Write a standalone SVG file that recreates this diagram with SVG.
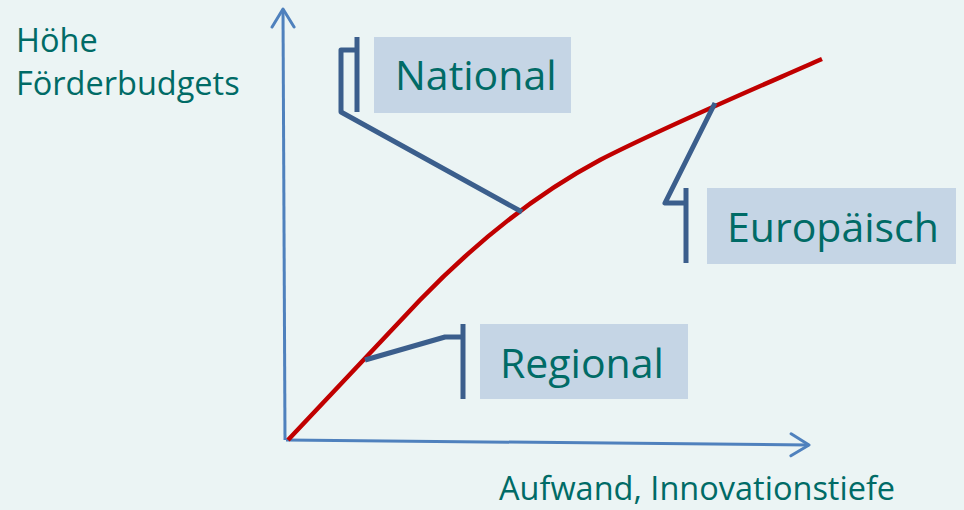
<svg xmlns="http://www.w3.org/2000/svg" width="964" height="510" viewBox="0 0 964 510">
<defs>
<style>
.axis{stroke:#4F81BD;stroke-width:3;fill:none}
.curve{stroke:#C00000;stroke-width:4.5;fill:none}
.call{stroke:#3B5E8C;stroke-width:5;fill:none;stroke-linejoin:round}
.box{fill:#C5D5E5}
.lbl{font-family:"Open Sans","Noto Sans",sans-serif;font-size:41px;fill:#006B66}
.ax{font-family:"Open Sans","Noto Sans",sans-serif;font-size:32.5px;fill:#006B66}
</style>
<marker id="arr" markerUnits="userSpaceOnUse" markerWidth="40" markerHeight="40" viewBox="-20 -20 40 40" refX="0" refY="0" orient="auto">
<path d="M-18,-11 L0,0 L-18,11" fill="none" stroke="#4F81BD" stroke-width="3" stroke-linejoin="round" stroke-linecap="round"/>
</marker>
</defs>
<rect width="964" height="510" fill="#EBF4F4"/>
<g id="axes">
<line class="axis" x1="285" y1="440" x2="283" y2="9" marker-end="url(#arr)"/>
<line class="axis" x1="286" y1="440" x2="809" y2="445" marker-end="url(#arr)"/>
<text class="ax" x="16" y="52">Höhe</text>
<text class="ax" x="16" y="95">Förderbudgets</text>
<text class="ax" x="499" y="500">Aufwand, Innovationstiefe</text>
</g>
<g id="curve">
<path class="curve" d="M288,440 L420,300 C480,238 540,192 600,160 C660,129 740,95 822,59"/>
</g>
<g id="connectors">
<polyline class="call" points="357,37 357,112"/>
<polyline class="call" points="357,50 341,50 341,112 522,212"/>
<polyline class="call" points="686,188 686,263"/>
<polyline class="call" points="715,103 665,203 686,203"/>
<polyline class="call" points="463,324 463,399"/>
<polyline class="call" points="463,337 445,337 365,360"/>
</g>
<g id="national">
<rect class="box" x="374" y="37" width="197" height="76"/>
<text class="lbl" x="395" y="90">National</text>
</g>
<g id="europaeisch">
<rect class="box" x="707" y="188" width="249" height="76"/>
<text class="lbl" x="727" y="242">Europäisch</text>
</g>
<g id="regional">
<rect class="box" x="480" y="324" width="208" height="75"/>
<text class="lbl" x="500" y="378">Regional</text>
</g>
</svg>
